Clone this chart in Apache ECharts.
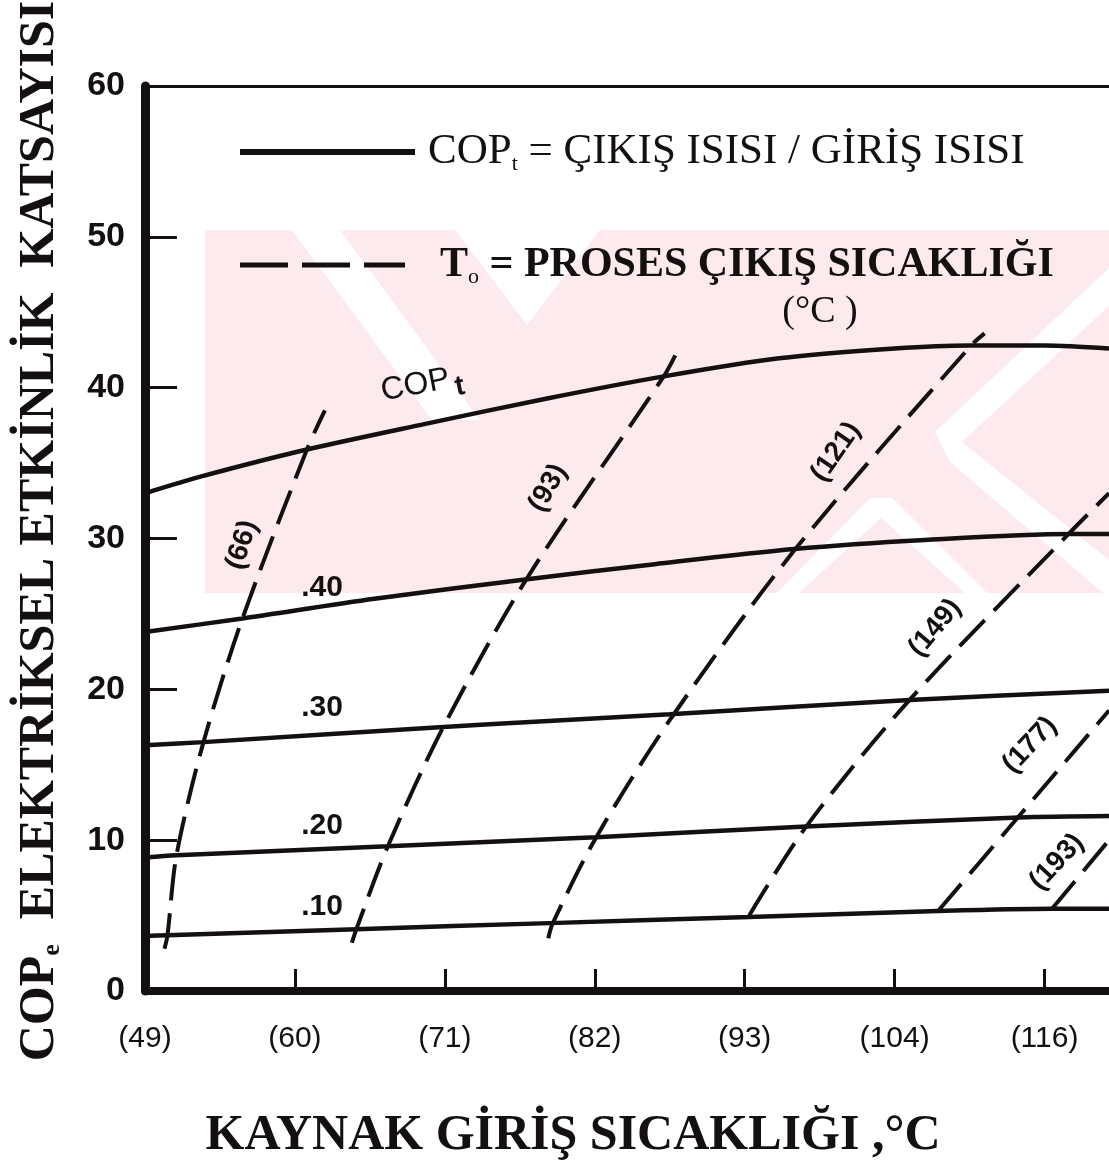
<!DOCTYPE html>
<html>
<head>
<meta charset="utf-8">
<title>COP grafiği</title>
<script src="https://cdn.jsdelivr.net/npm/echarts@6/dist/echarts.min.js"></script>
<style>
  html, body { margin: 0; padding: 0; background: #fff; }
  #main { width: 1109px; height: 1167px; }
</style>
</head>
<body>
<div id="main"></div>
<script>
// x ekseni: kaynak giriş sıcaklığı, eşit aralıklı tikler (index 0..6)
const xTicks = ['(49)', '(60)', '(71)', '(82)', '(93)', '(104)', '(116)'];
const xMax = 6.43;

// sürekli çizgiler  [x index, COP]
const copT = [[0, 33.0], [0.37, 34.1], [1.08, 35.9], [1.87, 37.6], [2.69, 39.3], [3.46, 40.75], [4.23, 41.95], [5.0, 42.6], [5.5, 42.8], [6.0, 42.8], [6.43, 42.6]];
const eff40 = [[0, 23.8], [0.65, 24.7], [1.53, 26.0], [2.55, 27.3], [3.4, 28.3], [4.33, 29.3], [5.2, 29.9], [6.17, 30.3], [6.43, 30.3]];
const eff30 = [[0, 16.3], [0.39, 16.5], [1.99, 17.5], [2.6, 17.85], [3.5, 18.35], [5.1, 19.3], [6.43, 19.9]];
const eff20 = [[0, 8.85], [0.21, 9.0], [1.62, 9.6], [2.77, 10.1], [3.01, 10.2], [4.41, 10.9], [5.83, 11.5], [6.43, 11.6]];
const eff10 = [[0, 3.65], [0.15, 3.7], [1.41, 4.1], [2.7, 4.5], [4.03, 4.9], [5.29, 5.3], [6.05, 5.45], [6.43, 5.45]];

// kesikli çizgiler: proses çıkış sıcaklığı T0
const t66 = [[0.13, 2.8], [0.15, 3.7], [0.21, 9.0], [0.39, 16.5], [0.65, 24.7], [1.08, 35.9], [1.2, 38.5]];
const t93 = [[1.38, 3.2], [1.41, 4.1], [1.62, 9.6], [1.99, 17.5], [2.55, 27.4], [3.46, 40.75], [3.55, 42.4]];
const t121 = [[2.69, 3.5], [2.72, 4.5], [3.01, 10.2], [3.51, 18.1], [4.33, 29.2], [5.51, 42.8], [5.6, 43.6]];
const t149 = [[4.03, 5.0], [4.41, 10.9], [5.1, 19.3], [6.17, 30.4], [6.43, 33.0]];
const t177 = [[5.29, 5.3], [5.83, 11.6], [6.43, 18.6]];
const t193 = [[6.05, 5.45], [6.43, 10.0]];

const solidNames = ['COPt', '.40', '.30', '.20', '.10'];
const solidData = [copT, eff40, eff30, eff20, eff10];
const dashNames = ['(66)', '(93)', '(121)', '(149)', '(177)', '(193)'];
const dashData = [t66, t93, t121, t149, t177, t193];

const ink = '#141010';
const pink = '#fdeaee';
const serif = '"Liberation Serif", "DejaVu Serif", serif';
const sans = '"Liberation Sans", Arial, sans-serif';

const chart = echarts.init(document.getElementById('main'));

const series = [];
solidNames.forEach(function (n, i) {
  series.push({
    name: n, type: 'line', data: solidData[i], smooth: 0.3, showSymbol: false,
    lineStyle: { color: ink, width: 4.5 }, z: 3
  });
});
dashNames.forEach(function (n, i) {
  series.push({
    name: n, type: 'line', data: dashData[i], smooth: 0.3, showSymbol: false,
    lineStyle: { color: ink, width: 4, type: [36, 13] }, z: 3
  });
});

function txt(x, y, text, size, rot, weight) {
  return {
    type: 'text', x: x, y: y, rotation: (rot || 0) * Math.PI / 180, z: 5,
    style: { text: text, fontSize: size, fontFamily: sans, fontWeight: weight || 'bold', fill: ink, align: 'center', verticalAlign: 'middle' }
  };
}

function poly(pts, fill) {
  return { type: 'polygon', z: -10, silent: true, shape: { points: pts }, style: { fill: fill } };
}

// soluk filigran (pembe bant, beyaz çapraz boşluklar)
const watermark = [
  poly([[205, 230], [1109, 230], [1109, 593], [205, 593]], pink),
  poly([[455, 230], [600, 230], [527, 325]], '#fff'),
  poly([[292, 230], [340, 230], [480, 420], [432, 420]], '#fff'),
  poly([[870, 498], [892, 498], [987, 593], [965, 593], [881, 518], [799, 593], [777, 593]], '#fff'),
  poly([[935, 432], [1109, 268], [1109, 306], [962, 442], [1109, 560], [1109, 598], [950, 462]], '#fff')
];

const graphics = watermark.concat([
  // lejant
  { type: 'line', z: 5, shape: { x1: 240, y1: 152, x2: 415, y2: 152 }, style: { stroke: ink, lineWidth: 6 } },
  { type: 'line', z: 5, shape: { x1: 240, y1: 265, x2: 405, y2: 265 }, style: { stroke: ink, lineWidth: 5, lineDash: [48, 14] } },
  {
    type: 'text', x: 428, y: 152, z: 5,
    style: {
      text: '{a|COP}{s|t}{a| = ÇIKIŞ ISISI / GİRİŞ ISISI}', fill: ink, align: 'left', verticalAlign: 'middle',
      rich: { a: { fontSize: 43, fontFamily: serif, fill: ink }, s: { fontSize: 22, fontFamily: serif, fill: ink, padding: [24, 0, 0, 0] } }
    }
  },
  {
    type: 'text', x: 440, y: 265, z: 5,
    style: {
      text: '{a|T}{s|o}{a| = PROSES ÇIKIŞ SICAKLIĞI}', fill: ink, align: 'left', verticalAlign: 'middle',
      rich: { a: { fontSize: 42, fontFamily: serif, fontWeight: 'bold', fill: ink }, s: { fontSize: 22, fontFamily: serif, fill: ink, padding: [24, 0, 0, 0] } }
    }
  },
  {
    type: 'text', x: 820, y: 312, z: 5,
    style: { text: '(°C )', fontSize: 38, fontFamily: serif, fill: ink, align: 'center', verticalAlign: 'middle' }
  },
  // eğri etiketleri
  {
    type: 'text', x: 422, y: 384, rotation: 11 * Math.PI / 180, z: 5,
    style: {
      text: '{a|COP}{s|t}', align: 'center', verticalAlign: 'middle',
      rich: { a: { fontSize: 32, fontFamily: sans, fill: ink }, s: { fontSize: 28, fontFamily: sans, fontWeight: 'bold', fill: ink, padding: [20, 0, 0, 4] } }
    }
  },
  txt(322, 588, '.40', 30), txt(322, 708, '.30', 30), txt(322, 826, '.20', 30), txt(322, 907, '.10', 30),
  txt(242, 545, '(66)', 28, 72), txt(548, 488, '(93)', 28, 60), txt(836, 452, '(121)', 28, 55),
  txt(935, 628, '(149)', 28, 50), txt(1030, 745, '(177)', 28, 47), txt(1057, 862, '(193)', 28, 47),
  // eksen başlıkları
  {
    type: 'text', x: 40, y: 531, rotation: Math.PI / 2, z: 5,
    style: {
      text: '{a|COP}{s|e}{a|  ELEKTRİKSEL ETKİNLİK  KATSAYISI}', align: 'center', verticalAlign: 'middle',
      rich: { a: { fontSize: 50, fontFamily: serif, fontWeight: 'bold', fill: ink }, s: { fontSize: 26, fontFamily: serif, fontWeight: 'bold', fill: ink, padding: [24, 0, 0, 0] } }
    }
  },
  {
    type: 'text', x: 573, y: 1136, z: 5,
    style: { text: 'KAYNAK GİRİŞ SICAKLIĞI ,°C', fontSize: 50, fontFamily: serif, fontWeight: 'bold', fill: ink, align: 'center', verticalAlign: 'middle' }
  }
]);

const option = {
  backgroundColor: '#fff',
  animation: false,
  grid: { left: 145, right: 0, top: 86, bottom: 176 },
  xAxis: [
    {
      type: 'value', min: 0, max: xMax, interval: 1, position: 'bottom',
      axisLine: { lineStyle: { color: ink, width: 8 } },
      axisTick: { inside: true, length: 22, lineStyle: { color: ink, width: 3 } },
      axisLabel: {
        margin: 33, fontSize: 30, fontFamily: sans, color: ink, showMaxLabel: false,
        formatter: function (v) { return Number.isInteger(v) ? xTicks[v] : ''; }
      },
      splitLine: { show: false }
    },
    {
      type: 'value', min: 0, max: xMax, position: 'top',
      axisLine: { show: true, lineStyle: { color: ink, width: 3 } },
      axisTick: { show: false }, axisLabel: { show: false }, splitLine: { show: false }
    }
  ],
  yAxis: {
    type: 'value', min: 0, max: 60, interval: 10,
    axisLine: { show: true, lineStyle: { color: ink, width: 9 } },
    axisTick: { show: true, inside: true, length: 32, lineStyle: { color: ink, width: 3 } },
    axisLabel: { margin: 20, fontSize: 34, fontFamily: sans, fontWeight: 'bold', color: ink },
    splitLine: { show: false }
  },
  graphic: graphics,
  series: series
};

chart.setOption(option);
</script>
</body>
</html>
